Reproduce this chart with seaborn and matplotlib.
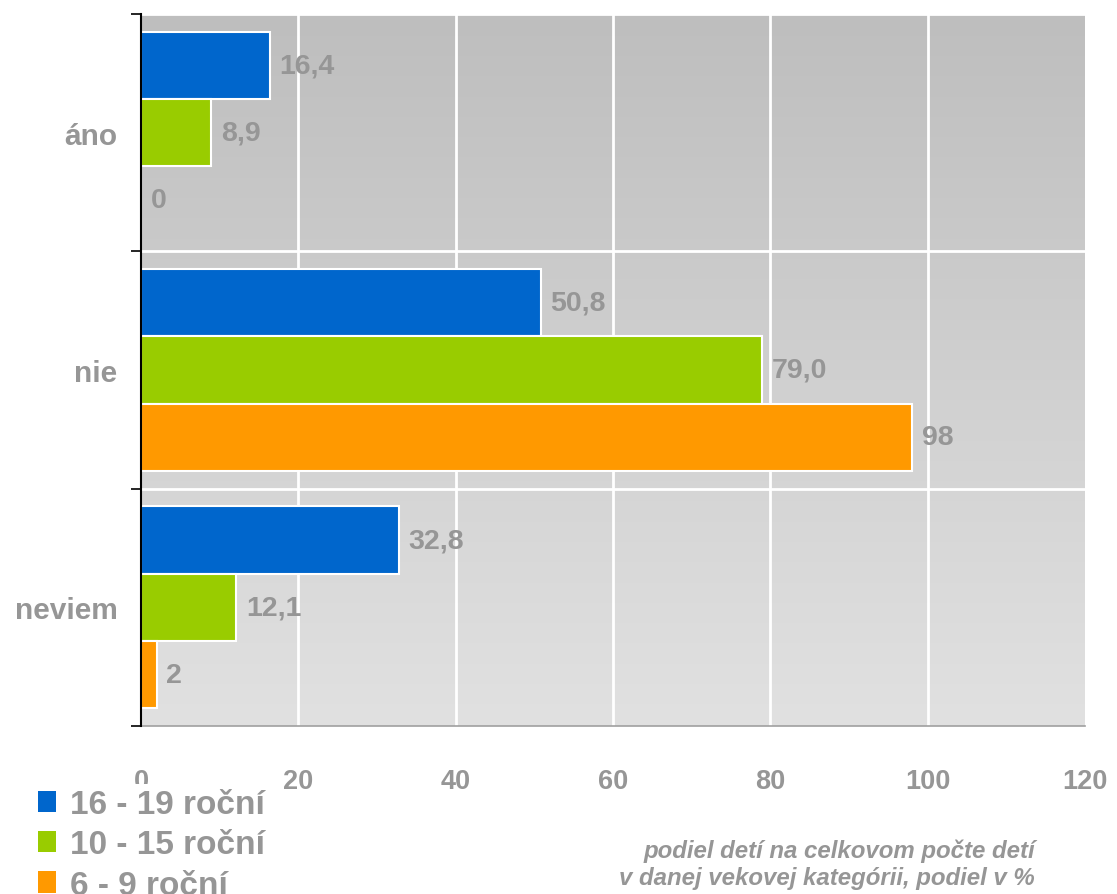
import numpy as np
import pandas as pd
import matplotlib
matplotlib.use("Agg")
import matplotlib.pyplot as plt
from matplotlib.colors import LinearSegmentedColormap
from matplotlib.patches import Patch
import seaborn as sns

categories = ["áno", "nie", "neviem"]
series = ["16 - 19 roční", "10 - 15 roční", "6 - 9 roční"]
vals_16_19 = [16.4, 50.8, 32.8]
vals_10_15 = [8.9, 79.0, 12.1]
vals_6_9 = [0, 98, 2]
labels_16_19 = ["16,4", "50,8", "32,8"]
labels_10_15 = ["8,9", "79,0", "12,1"]
labels_6_9 = ["0", "98", "2"]
x_ticks = [0, 20, 40, 60, 80, 100, 120]
colors = ["#0066CC", "#99CC00", "#FF9900"]
axis_title = "podiel detí na celkovom počte detí\nv danej vekovej kategórii, podiel v %"

rows = []
for s, vals in zip(series, [vals_16_19, vals_10_15, vals_6_9]):
    for c, v in zip(categories, vals):
        rows.append({"kategória": c, "séria": s, "hodnota": v})
df = pd.DataFrame(rows)

sns.set_theme(style="white")
plt.rcParams["font.family"] = ["Liberation Sans", "DejaVu Sans"]
TXT = "#969696"

fig = plt.figure(figsize=(11.17, 8.95), dpi=100)
ax = fig.add_axes([141/1117, 1-727/895, (1085-141)/1117, (727-15)/895])

# gradient background
grad = np.linspace(0, 1, 256).reshape(-1, 1)
cmap = LinearSegmentedColormap.from_list("bg", ["#bebebe", "#e1e1e1"])
ax.imshow(grad, cmap=cmap, extent=[0, 1, 0, 1], transform=ax.transAxes,
          aspect="auto", origin="upper", zorder=0)

sns.barplot(data=df, y="kategória", x="hodnota", hue="séria", orient="h",
            palette=colors, hue_order=series, order=categories, saturation=1,
            width=0.85, edgecolor="white", linewidth=1.5, ax=ax, zorder=3)

ax.set_xlim(0, 120)
ax.set_ylim(2.5, -0.5)

# grid lines
for xv in x_ticks[1:-1]:
    ax.axvline(xv, color="white", lw=2, zorder=1)
for yv in [0.5, 1.5]:
    ax.axhline(yv, color="white", lw=2, zorder=1)
ax.axhline(-0.5, color="white", lw=2, zorder=1)

# value labels
all_labels = [labels_16_19, labels_10_15, labels_6_9]
for cont, labs in zip(ax.containers, all_labels):
    ax.bar_label(cont, labels=labs, padding=7, color=TXT, fontsize=20.5,
                 fontweight="bold", zorder=5)

ax.set_xticks(x_ticks)
ax.set_xticklabels([str(t) for t in x_ticks])
ax.set_yticks(range(len(categories)))
ax.set_yticklabels(categories)
ax.set_yticks([-0.5, 0.5, 1.5, 2.5], minor=True)
ax.tick_params(axis="y", which="major", length=0, pad=17, labelsize=21.5,
               labelcolor=TXT)
ax.tick_params(axis="y", which="minor", length=7, width=1.2, color="black",
               left=True, direction="out")
ax.tick_params(axis="x", which="major", length=0, pad=30, labelsize=19.5,
               labelcolor=TXT)
for lab in ax.get_xticklabels() + ax.get_yticklabels():
    lab.set_fontweight("bold")

ax.set_xlabel("")
ax.set_ylabel("")
for sp in ["top", "right"]:
    ax.spines[sp].set_visible(False)
ax.spines["left"].set_color("black")
ax.spines["left"].set_linewidth(1.5)
ax.spines["left"].set_zorder(6)
ax.spines["bottom"].set_color("#a0a0a0")
ax.spines["bottom"].set_linewidth(1.2)

if ax.get_legend() is not None:
    ax.get_legend().remove()
handles = [Patch(facecolor=c, edgecolor="none") for c in colors]
leg = fig.legend(handles, series, loc="upper left",
                 bbox_to_anchor=(33/1117, 1-785/895), frameon=True,
                 facecolor="white", edgecolor="none", framealpha=1,
                 fancybox=False,
                 handlelength=0.55, handleheight=0.6, handletextpad=0.4,
                 labelspacing=0.28, borderaxespad=0, borderpad=0.15,
                 prop={"size": 24, "weight": "bold"})
for t in leg.get_texts():
    t.set_color(TXT)
leg.set_zorder(10)

fig.text(1035/1117, 1-865/895, axis_title, ha="right", va="center",
         color=TXT, fontsize=17.3, fontweight="bold", style="italic",
         linespacing=1.2)

fig.savefig("out.png", dpi=100, facecolor="white")
